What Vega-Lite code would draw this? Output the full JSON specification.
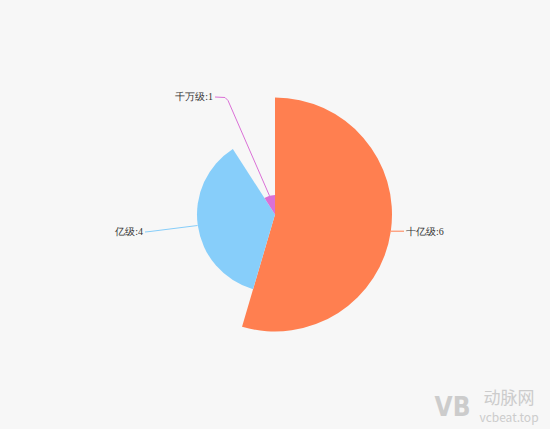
{
  "$schema": "https://vega.github.io/schema/vega-lite/v6.json",
  "autosize": {"type": "fit", "contains": "padding"},
  "width": 550,
  "height": 429,
  "padding": 0,
  "background": "#f7f7f7",
  "config": {"view": {"stroke": null}},
  "datasets": {
    "slices": [
      {"idx": 1, "level": "十亿级", "count": 6},
      {"idx": 2, "level": "亿级", "count": 4},
      {"idx": 3, "level": "千万级", "count": 1}
    ],
    "leaders": [
      {"level": "十亿级", "seq": 1, "x": 116, "y": -16.7},
      {"level": "十亿级", "seq": 2, "x": 129, "y": -16.7},
      {"level": "亿级", "seq": 1, "x": -77.5, "y": -11},
      {"level": "亿级", "seq": 2, "x": -125, "y": -17},
      {"level": "亿级", "seq": 3, "x": -130, "y": -17.5},
      {"level": "千万级", "seq": 1, "x": -5.5, "y": 18.7},
      {"level": "千万级", "seq": 2, "x": -47, "y": 114},
      {"level": "千万级", "seq": 3, "x": -50, "y": 117},
      {"level": "千万级", "seq": 4, "x": -60, "y": 117.5}
    ],
    "labels": [
      {"label": "十亿级:6", "x": 131, "y": -17, "side": "left"},
      {"label": "亿级:4", "x": -132, "y": -17.5, "side": "right"},
      {"label": "千万级:1", "x": -62, "y": 117.5, "side": "right"}
    ]
  },
  "layer": [
    {
      "data": {"name": "slices"},
      "mark": {"type": "arc"},
      "encoding": {
        "theta": {"field": "count", "type": "quantitative", "stack": true},
        "radius": {
          "field": "count",
          "type": "quantitative",
          "scale": {"type": "linear", "domain": [0, 6], "range": [0, 117], "zero": true}
        },
        "order": {"field": "idx", "type": "quantitative"},
        "color": {
          "field": "level",
          "type": "nominal",
          "scale": {"domain": ["十亿级", "亿级", "千万级"], "range": ["#ff7f50", "#87cefa", "#da70d6"]},
          "legend": null
        }
      }
    },
    {
      "data": {"name": "leaders"},
      "mark": {"type": "line", "strokeWidth": 1, "interpolate": "linear"},
      "encoding": {
        "x": {"field": "x", "type": "quantitative", "scale": {"domain": [-275, 275], "nice": false, "zero": false}, "axis": null},
        "y": {"field": "y", "type": "quantitative", "scale": {"domain": [-214.5, 214.5], "nice": false, "zero": false}, "axis": null},
        "order": {"field": "seq", "type": "quantitative"},
        "detail": {"field": "level", "type": "nominal"},
        "color": {"field": "level", "type": "nominal", "legend": null}
      }
    },
    {
      "data": {"name": "labels"},
      "transform": [{"filter": "datum.side == 'left'"}],
      "mark": {"type": "text", "align": "left", "baseline": "middle", "font": "Liberation Serif", "fontSize": 10, "color": "#333333"},
      "encoding": {
        "x": {"field": "x", "type": "quantitative"},
        "y": {"field": "y", "type": "quantitative"},
        "text": {"field": "label"}
      }
    },
    {
      "data": {"name": "labels"},
      "transform": [{"filter": "datum.side == 'right'"}],
      "mark": {"type": "text", "align": "right", "baseline": "middle", "font": "Liberation Serif", "fontSize": 10, "color": "#333333"},
      "encoding": {
        "x": {"field": "x", "type": "quantitative"},
        "y": {"field": "y", "type": "quantitative"},
        "text": {"field": "label"}
      }
    },
    {
      "data": {"values": [
        {"t": "动脉网", "x": 234, "y": -184, "s": 17},
        {"t": "vcbeat.top", "x": 234, "y": -203, "s": 12}
      ]},
      "mark": {"type": "text", "align": "center", "baseline": "middle", "font": "Noto Sans CJK SC", "color": "#cccccc"},
      "encoding": {
        "x": {"field": "x", "type": "quantitative"},
        "y": {"field": "y", "type": "quantitative"},
        "text": {"field": "t"},
        "size": {"field": "s", "type": "quantitative", "scale": null}
      }
    },
    {
      "data": {"values": [{"t": "VB", "x": 177.5, "y": -193}]},
      "mark": {"type": "text", "align": "center", "baseline": "middle", "font": "DejaVu Sans Condensed", "fontWeight": "bold", "fontSize": 26, "color": "#cccccc"},
      "encoding": {
        "x": {"field": "x", "type": "quantitative"},
        "y": {"field": "y", "type": "quantitative"},
        "text": {"field": "t"}
      }
    }
  ]
}
